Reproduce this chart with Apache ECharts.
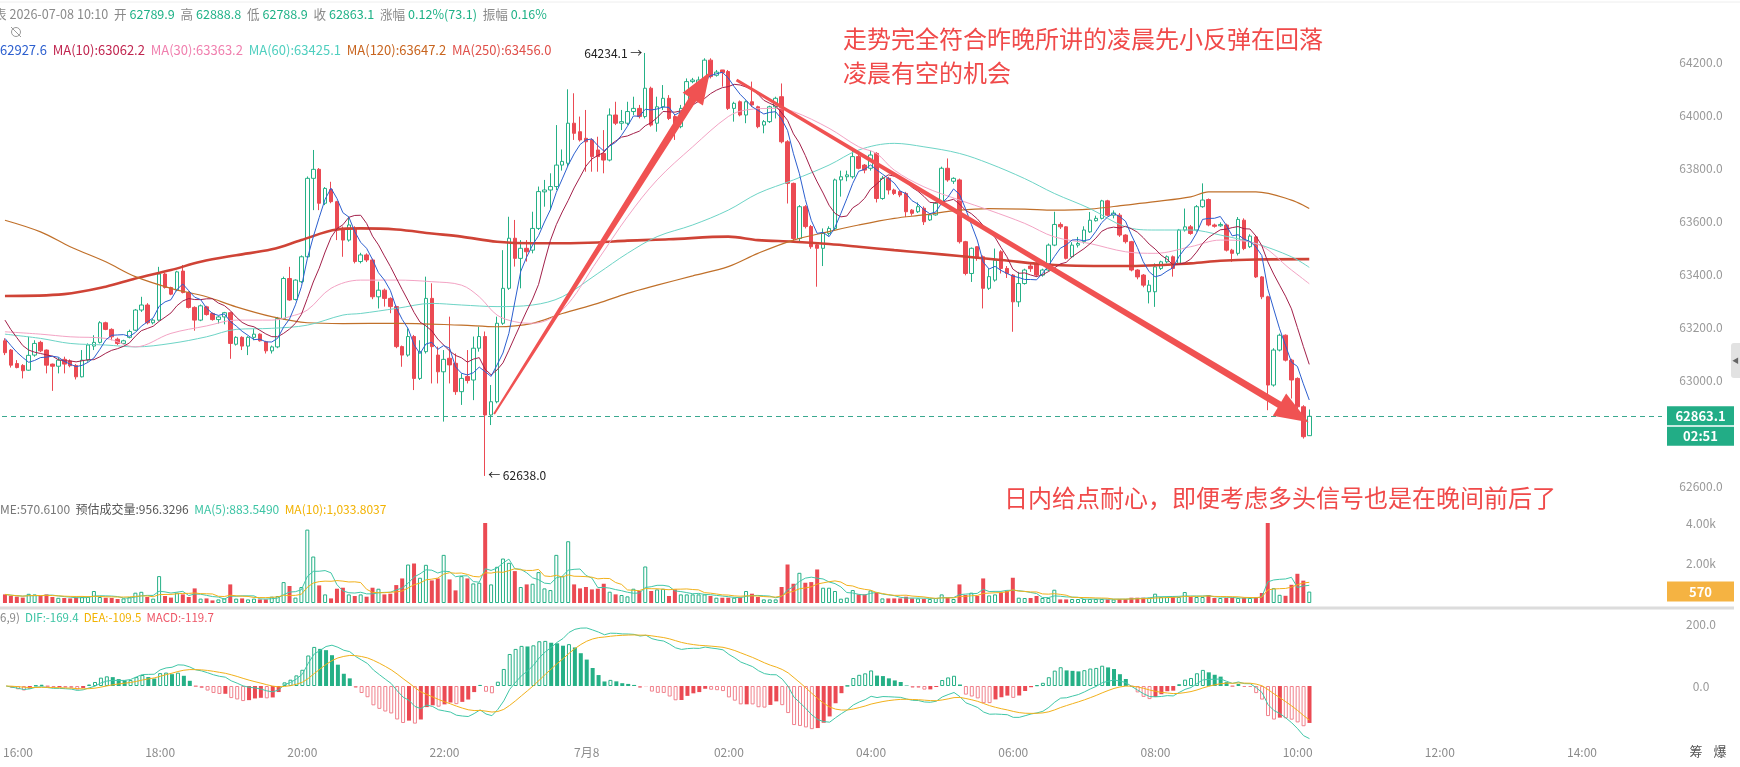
<!DOCTYPE html>
<html>
<head>
<meta charset="utf-8">
<script src="https://cdn.jsdelivr.net/npm/echarts@6/dist/echarts.min.js"></script>
<style>
html,body{margin:0;padding:0;background:#fff;}
#main{width:1740px;height:767px;}
</style>
</head>
<body>
<div id="main"></div>
<script>
// 5 分钟 K 线, 15:50 起, 共 221 根 (到 7月8 10:10)
var opens = [
63148,63113,63062,63055,63037,63094,63142,63113,63060,63052,
63078,63072,63055,63012,63075,63128,63142,63216,63191,63154,
63138,63161,63188,63264,63283,63216,63226,63400,63349,63339,
63411,63330,63274,63226,63276,63251,63228,63238,63254,63135,
63161,63128,63161,63173,63144,63110,63125,63232,63383,63304,
63371,63465,63761,63795,63667,63719,63673,63566,63528,63572,
63447,63472,63453,63314,63339,63308,63277,63126,63094,63164,
63006,63107,63308,63094,63031,63082,63063,62956,63013,63000,
63120,63164,62868,62918,63214,63346,63535,63459,63497,63490,
63572,63710,63717,63730,63811,63818,63969,63937,63912,63906,
63868,63855,63830,64000,63969,63969,64013,64025,63994,64101,
63969,64031,64063,63994,63956,64025,64126,64120,64126,64207,
64150,64170,64164,64025,64050,64000,64050,64031,63962,63975,
64031,64069,63899,63742,63534,63654,63579,63510,63497,63553,
63572,63755,63767,63767,63843,63811,63799,63855,63685,63761,
63717,63711,63704,63641,63635,63648,63604,63623,63667,63799,
63750,63755,63522,63402,63503,63465,63346,63377,63484,63421,
63396,63295,63364,63430,63440,63396,63415,63509,63587,63578,
63465,63509,63522,63559,63601,63610,63676,63622,63622,63547,
63522,63415,63396,63333,63333,63421,63446,63465,63440,63566,
63578,63566,63654,63681,63585,63582,63585,63490,63478,63603,
63503,63540,63389,63314,62981,63113,63169,63075,63006,62899,
62789.9];
var closes = [
63103,63056,63047,63035,63093,63138,63110,63056,63052,63075,
63060,63054,63012,63075,63132,63142,63216,63191,63163,63138,
63148,63183,63264,63283,63216,63226,63400,63349,63324,63408,
63330,63274,63226,63280,63247,63228,63238,63254,63138,63161,
63128,63161,63173,63148,63110,63125,63232,63383,63302,63377,
63465,63761,63795,63667,63723,63673,63566,63528,63585,63447,
63472,63453,63314,63339,63308,63277,63126,63094,63164,63006,
63107,63308,63126,63031,63078,63057,62956,63006,62998,63120,
63164,62868,62918,63214,63346,63535,63459,63497,63484,63572,
63711,63717,63730,63811,63825,63969,63931,63906,63899,63843,
63843,63830,64000,63969,63975,64013,64025,63994,64101,63962,
64031,64063,63987,63956,64025,64126,64132,64132,64207,64145,
64162,64160,64025,64044,64000,64050,64038,63956,63975,64031,
64063,63899,63742,63534,63654,63579,63503,63497,63553,63572,
63755,63767,63774,63843,63799,63792,63849,63685,63761,63717,
63704,63698,63635,63629,63654,63597,63623,63667,63799,63755,
63761,63522,63402,63497,63459,63346,63390,63452,63421,63402,
63295,63364,63415,63420,63396,63415,63509,63587,63578,63459,
63509,63515,63566,63603,63610,63676,63622,63630,63547,63522,
63415,63389,63358,63358,63427,63446,63465,63421,63566,63578,
63553,63654,63679,63585,63580,63587,63490,63478,63606,63496,
63543,63389,63314,62981,63113,63169,63075,63000,62899,62786,
62863.1];
var lows = [
63094,63047,63044,63006,63035,63088,63105,63025,62959,63025,
63025,63048,63002,63010,63069,63113,63138,63188,63150,63132,
63135,63157,63185,63257,63210,63210,63223,63345,63320,63335,
63327,63270,63186,63222,63243,63224,63213,63210,63080,63130,
63113,63094,63150,63145,63100,63100,63120,63228,63299,63300,
63366,63460,63641,63641,63660,63667,63528,63465,63522,63440,
63440,63445,63305,63270,63277,63252,63120,63050,63088,62962,
63000,63100,62987,62987,62843,62987,62944,62906,62987,62924,
63107,62638,62830,62912,63208,63340,63428,63346,63447,63478,
63566,63654,63641,63717,63790,63805,63906,63900,63786,63786,
63786,63780,63825,63962,63943,63962,64000,63987,63987,63956,
63937,64019,63981,63906,63950,64019,64120,64110,64120,64138,
64145,64107,64019,63975,63995,63969,64030,63950,63931,63970,
63987,63893,63666,63520,63520,63572,63495,63352,63430,63545,
63566,63692,63750,63760,63795,63780,63790,63670,63680,63700,
63698,63690,63615,63620,63630,63585,63600,63620,63660,63748,
63740,63515,63395,63370,63450,63270,63340,63371,63402,63385,
63182,63276,63360,63408,63389,63390,63410,63505,63570,63455,
63460,63500,63515,63555,63598,63606,63618,63610,63540,63515,
63410,63380,63350,63289,63276,63415,63440,63390,63435,63560,
63548,63560,63650,63580,63575,63578,63485,63446,63470,63490,
63498,63385,63305,62886,62975,63108,63070,62930,62850,62779,
62788.9];
var highs = [
63157,63117,63075,63060,63163,63150,63148,63115,63062,63085,
63088,63078,63060,63113,63138,63169,63222,63220,63195,63160,
63152,63190,63268,63314,63290,63230,63427,63405,63352,63412,
63434,63335,63278,63285,63280,63255,63242,63257,63258,63165,
63165,63165,63193,63176,63148,63130,63238,63390,63427,63380,
63470,63768,63868,63800,63728,63748,63676,63579,63617,63580,
63480,63478,63458,63371,63345,63312,63280,63130,63195,63170,
63150,63390,63365,63126,63113,63239,63100,63025,63113,63164,
63201,63183,62981,63239,63490,63616,63604,63528,63528,63635,
63730,63755,63780,63962,63870,64097,64082,63994,64019,63912,
63918,63943,64025,64050,64019,64050,64069,64038,64234.1,64107,
64069,64113,64075,64000,64038,64138,64140,64145,64214,64214,
64170,64170,64170,64050,64055,64055,64126,64035,63981,64035,
64069,64119,63905,63745,63660,63660,63585,63515,63572,63580,
63760,63790,63790,63870,63850,63815,63865,63860,63770,63767,
63722,63715,63710,63645,63670,63655,63628,63672,63805,63836,
63765,63760,63525,63500,63505,63470,63420,63496,63490,63430,
63400,63408,63420,63440,63445,63420,63515,63635,63595,63580,
63520,63540,63580,63634,63620,63680,63680,63640,63630,63550,
63525,63418,63400,63377,63440,63450,63470,63470,63570,63647,
63585,63660,63742,63685,63590,63595,63590,63495,63615,63610,
63550,63545,63392,63318,63120,63175,63172,63080,63010,62905,
62888.8];
var volumes = [
430,350,320,270,460,430,350,430,300,260,
250,230,280,300,320,600,300,260,250,200,
230,300,515,560,300,220,1345,350,270,515,
430,300,730,220,230,130,180,230,930,220,
230,180,220,180,180,315,350,1045,850,270,
800,3670,2324,880,430,230,714,764,430,350,
430,315,764,714,430,465,896,1228,1925,1975,
1262,1909,1129,1228,2407,1179,631,1345,1228,979,
1013,4000,930,1810,2224,2009,1594,800,930,963,
1544,730,647,2407,1345,3088,930,730,800,680,
714,963,564,432,400,332,714,600,1826,600,
680,714,350,680,430,430,430,430,430,350,
265,265,265,265,265,600,465,300,180,180,
180,800,1925,963,1510,1013,1045,1677,764,764,
600,216,266,647,432,432,630,515,230,230,
230,230,315,230,230,200,200,250,430,266,
200,930,400,515,350,1228,380,430,515,600,
1262,266,250,250,350,250,250,664,180,180,
200,200,200,200,200,200,180,180,200,200,
265,265,265,265,465,300,300,300,300,548,
300,300,300,400,250,250,250,250,250,250,
250,270,500,4000,740,410,360,910,1460,1117,
570.61];

// 均线: 窗口外的开头几根读图值, 长周期均线按读图点取样
var ma5Head = [63157, 63130, 63105, 63085];
var ma10Head = [63226, 63190, 63160, 63130, 63113, 63105, 63100, 63095, 63090];
var ma30Pts = [[0,63182],[6,63173],[11,63163],[17,63157],[22,63125],[28,63176],[34,63204],[39,63226],[45,63226],[48,63239],[51,63264],[55,63346],[60,63377],[66,63377],[72,63371],[77,63358],[80,63314],[83,63245],[86,63220],[89,63214],[94,63264],[100,63453],[105,63616],[110,63755],[116,63880],[122,63994],[125,64019],[130,64025],[133,64013],[139,63950],[144,63880],[147,63855],[150,63792],[155,63729],[161,63679],[166,63641],[172,63591],[177,63540],[183,63515],[189,63484],[194,63478],[200,63503],[205,63528],[211,63515],[217,63415],[220,63363.2]];
var ma60Pts = [[0,63173],[6,63157],[11,63138],[17,63132],[22,63125],[28,63138],[34,63163],[39,63191],[45,63195],[51,63207],[57,63245],[60,63251],[66,63270],[72,63289],[77,63283],[83,63277],[89,63283],[94,63314],[100,63402],[105,63478],[110,63541],[116,63585],[122,63641],[127,63704],[133,63755],[139,63811],[144,63868],[150,63893],[155,63880],[161,63855],[166,63817],[172,63760],[177,63704],[183,63647],[189,63578],[194,63566],[200,63566],[205,63547],[211,63515],[217,63465],[220,63425.1]];
var ma120Pts = [[0,63603],[6,63559],[11,63503],[17,63446],[22,63390],[28,63346],[34,63314],[39,63276],[45,63239],[51,63216],[57,63213],[66,63214],[77,63207],[83,63201],[89,63214],[94,63251],[100,63289],[105,63327],[110,63358],[116,63393],[122,63428],[127,63478],[133,63528],[139,63560],[144,63585],[150,63610],[155,63623],[161,63641],[166,63647],[172,63645],[177,63641],[183,63645],[189,63660],[194,63673],[200,63691],[203,63710],[211,63710],[217,63679],[220,63647.2]];
var ma250Pts = [[0,63317],[10,63324],[17,63352],[22,63383],[28,63415],[33,63446],[39,63471],[45,63493],[50,63528],[56,63568],[60,63572],[66,63568],[72,63553],[77,63541],[83,63522],[89,63516],[94,63516],[100,63519],[105,63526],[112,63531],[122,63541],[127,63528],[133,63522],[139,63513],[144,63503],[150,63490],[155,63480],[161,63468],[168,63453],[177,63434],[189,63430],[200,63440],[205,63450],[211,63455],[220,63456.0]];

var tickTimes = ['16:00','18:00','20:00','22:00','00:00','02:00','04:00','06:00','08:00','10:00','12:00','14:00'];
var tickNames = ['16:00','18:00','20:00','22:00','7月8','02:00','04:00','06:00','08:00','10:00','12:00','14:00'];
var priceTicks = [62600, 63000, 63200, 63400, 63600, 63800, 64000, 64200];
var volTicks = [2000, 4000];
var macdTicks = [0, 200];

var FONT = '"Noto Sans CJK SC","Noto Sans",sans-serif';
var GREEN = '#25b086', RED = '#eb4a53', PINKRED = '#f0818c';
var ARROW = '#f05252';

function pad(n){ return (n < 10 ? '0' : '') + n; }
var times = [];
var startMin = 15 * 60 + 50;
for (var i = 0; i < 280; i++) {
	var m = (startMin + 5 * i) % 1440;
	times.push(pad(Math.floor(m / 60)) + ':' + pad(m % 60));
}

function movingAvg(src, n, head) {
	return src.map(function (v, i) {
		if (i < n - 1) {
			if (head) return head[i];
			var s = 0;
			for (var k = 0; k <= i; k++) s += src[k];
			return s / (i + 1);
		}
		var sum = 0;
		for (var j = i - n + 1; j <= i; j++) sum += src[j];
		return sum / n;
	});
}
function sparse(pts) {
	var arr = closes.map(function () { return null; });
	pts.forEach(function (p) { arr[p[0]] = p[1]; });
	return arr;
}

var kData = closes.map(function (c, i) { return [opens[i], c, lows[i], highs[i]]; });
var volData = volumes.map(function (v, i) {
	var up = closes[i] >= opens[i];
	return { value: v, itemStyle: up ? { color: '#fff', borderColor: GREEN, borderWidth: 1 } : { color: RED } };
});

// MACD(12,26,9)
var e12 = closes[0], e26 = closes[0], dea = 0;
var difArr = [], deaArr = [], histArr = [];
closes.forEach(function (c) {
	e12 = e12 * 11 / 13 + c * 2 / 13;
	e26 = e26 * 25 / 27 + c * 2 / 27;
	var dif = e12 - e26;
	dea = dea * 8 / 10 + dif * 2 / 10;
	difArr.push(dif);
	deaArr.push(dea);
	histArr.push(2 * (dif - dea));
});
var histData = histArr.map(function (h, i) {
	var prev = i > 0 ? histArr[i - 1] : 0;
	var st;
	if (h >= 0) st = h > prev ? { color: '#fff', borderColor: GREEN, borderWidth: 1 } : { color: GREEN };
	else st = h < prev ? { color: '#fff', borderColor: PINKRED, borderWidth: 1 } : { color: RED };
	return { value: h, itemStyle: st };
});

var chart = echarts.init(document.getElementById('main'));

function xAxisFor(k) {
	return {
		type: 'category', gridIndex: k, data: times, boundaryGap: true,
		axisLine: { show: false }, axisTick: { show: false }, splitLine: { show: false },
		axisLabel: k === 2 ? {
			show: true, color: '#8c8c8c', fontSize: 12, margin: 4,
			interval: function (idx, val) { return tickTimes.indexOf(val) >= 0; },
			formatter: function (val) { var t = tickTimes.indexOf(val); return t >= 0 ? tickNames[t] : ''; }
		} : { show: false }
	};
}
function yAxisFor(k, min, max, ticks, fmt) {
	return {
		type: 'value', gridIndex: k, position: 'right', min: min, max: max, scale: true,
		axisLine: { show: false }, axisTick: { show: false }, splitLine: { show: false },
		axisLabel: { customValues: ticks, formatter: fmt, align: 'center', margin: 39, color: '#999', fontSize: 12 }
	};
}
function lineSeries(name, data, color, width, xi, sparseLine) {
	return {
		name: name, type: 'line', xAxisIndex: xi, yAxisIndex: xi, data: data,
		showSymbol: false, symbol: 'none', silent: true, connectNulls: true,
		smooth: sparseLine ? 0.35 : false,
		lineStyle: { color: color, width: width }
	};
}

var option = {
	animation: false,
	backgroundColor: '#fff',
	textStyle: { fontFamily: FONT },
	grid: [
		{ left: 2, right: 78, top: 35, height: 462 },
		{ left: 2, right: 78, top: 503, height: 100 },
		{ left: 2, right: 78, top: 612, height: 130 }
	],
	xAxis: [xAxisFor(0), xAxisFor(1), xAxisFor(2)],
	yAxis: [
		yAxisFor(0, 62558.5, 64301.9, priceTicks, function (v) { return v.toFixed(1); }),
		yAxisFor(1, 0, 5000, volTicks, function (v) { return (v / 1000).toFixed(2) + 'k'; }),
		yAxisFor(2, -180.6, 238.7, macdTicks, function (v) { return v.toFixed(1); })
	],
	series: [
		{
			type: 'candlestick', xAxisIndex: 0, yAxisIndex: 0, data: kData, barWidth: 4, silent: true,
			itemStyle: { color: '#fff', color0: RED, borderColor: GREEN, borderColor0: RED, borderWidth: 1 },
			markLine: {
				symbol: 'none', silent: true, label: { show: false },
				lineStyle: { type: [5, 4], color: '#3aa88f', width: 1 },
				data: [{ yAxis: closes[closes.length - 1] }]
			}
		},
		lineSeries('MA250', sparse(ma250Pts), '#cf4336', 2.6, 0, true),
		lineSeries('MA120', sparse(ma120Pts), '#c0702a', 1.2, 0, true),
		lineSeries('MA60', sparse(ma60Pts), '#6dd4c6', 1, 0, true),
		lineSeries('MA30', sparse(ma30Pts), '#f3a3c4', 1, 0, true),
		lineSeries('MA10', movingAvg(closes, 10, ma10Head), '#a3204a', 1, 0, false),
		lineSeries('MA5', movingAvg(closes, 5, ma5Head), '#2c5fcf', 1, 0, false),
		{ type: 'bar', xAxisIndex: 1, yAxisIndex: 1, data: volData, barWidth: 4, silent: true },
		lineSeries('VMA5', movingAvg(volumes, 5), '#41c7a8', 1, 1, false),
		lineSeries('VMA10', movingAvg(volumes, 10), '#f2b11b', 1, 1, false),
		{ type: 'bar', xAxisIndex: 2, yAxisIndex: 2, data: histData, barWidth: 4, silent: true },
		lineSeries('DIF', difArr, '#41c7a8', 1, 2, false),
		lineSeries('DEA', deaArr, '#f2b11b', 1, 2, false)
	]
};
chart.setOption(option);

// ---- 标注 / 文字 ----
function pt(gi, i, v) {
	var f = Math.floor(i);
	var a = chart.convertToPixel({ gridIndex: gi }, [f, v]);
	var b = chart.convertToPixel({ gridIndex: gi }, [f + 1, v]);
	return [a[0] + (b[0] - a[0]) * (i - f), a[1]];
}
function arrowPts(a, b, w0, w1, hw, hl) {
	var dx = b[0] - a[0], dy = b[1] - a[1];
	var len = Math.sqrt(dx * dx + dy * dy);
	var ux = dx / len, uy = dy / len, nx = -uy, ny = ux;
	var bx = b[0] - ux * hl, by = b[1] - uy * hl;
	return [
		[a[0] + nx * w0 / 2, a[1] + ny * w0 / 2],
		[bx + nx * w1 / 2, by + ny * w1 / 2],
		[bx + nx * hw / 2, by + ny * hw / 2],
		[b[0], b[1]],
		[bx - nx * hw / 2, by - ny * hw / 2],
		[bx - nx * w1 / 2, by - ny * w1 / 2],
		[a[0] - nx * w0 / 2, a[1] - ny * w0 / 2]
	];
}
function txt(s, x, y, color, size, extra) {
	var st = { text: s, x: x, y: y, fill: color, font: (extra && extra.bold ? 'bold ' : '') + size + 'px ' + FONT,
		textAlign: (extra && extra.align) || 'left', textVerticalAlign: 'middle' };
	return { type: 'text', z: 120, silent: true, style: st };
}
// 一行多色文字: parts = [[text, color], ...]
function richRow(parts, x, y, size) {
	var rich = {}, s = '';
	parts.forEach(function (p, k) {
		rich['p' + k] = { fill: p[1], fontSize: size, fontFamily: FONT };
		s += '{p' + k + '|' + p[0] + '}';
	});
	return { type: 'text', z: 120, silent: true, style: { x: x, y: y, text: s, rich: rich, textVerticalAlign: 'middle', font: size + 'px ' + FONT } };
}

var g = [];
var GR = '#8a8a8a', VG = '#1fb287';
g.push(richRow([['表 2026-07-08 10:10  开 ', GR], ['62789.9', VG], ['  高 ', GR], ['62888.8', VG], ['  低 ', GR], ['62788.9', VG],
	['  收 ', GR], ['62863.1', VG], ['  涨幅 ', GR], ['0.12%(73.1)', VG], ['  振幅 ', GR], ['0.16%', VG]], -6, 14, 12.6));
g.push(richRow([['62927.6  ', '#2c5fcf'], ['MA(10):63062.2  ', '#c0254f'], ['MA(30):63363.2  ', '#f07fae'],
	['MA(60):63425.1  ', '#4fcfbf'], ['MA(120):63647.2  ', '#c8641e'], ['MA(250):63456.0', '#e0504a']], 0, 50, 13));
g.push({ type: 'circle', z: 120, silent: true, shape: { cx: 16, cy: 32, r: 4.5 }, style: { fill: 'none', stroke: '#9a9a9a', lineWidth: 1 } });
g.push({ type: 'line', z: 120, silent: true, shape: { x1: 11, y1: 27, x2: 21, y2: 37 }, style: { stroke: '#9a9a9a', lineWidth: 1 } });
g.push({ type: 'line', z: 1, silent: true, shape: { x1: 0, y1: 2, x2: 1740, y2: 2 }, style: { stroke: '#eeeeee', lineWidth: 1 } });

// 量 / MACD 标题
g.push(richRow([['ME:570.6100  ', '#777'], ['预估成交量:956.3296  ', '#555'], ['MA(5):883.5490  ', '#3cc4a4'], ['MA(10):1,033.8037', '#f2b200']], 0, 509, 12));
g.push(richRow([['6,9)  ', '#888'], ['DIF:-169.4  ', '#3cc4a4'], ['DEA:-109.5  ', '#f2b200'], ['MACD:-119.7', '#ee5566']], 0, 618, 11.5));
g.push({ type: 'line', z: 5, silent: true, shape: { x1: 0, y1: 608, x2: 1734, y2: 608 }, style: { stroke: '#dcdcdc', lineWidth: 3 } });

// 最高 / 最低
var hiP = pt(0, 108, 64234.1), loP = pt(0, 81, 62638.0);
g.push(txt('64234.1 →', hiP[0] - 3, hiP[1], '#222', 12, { align: 'right' }));
g.push(txt('← 62638.0', loP[0] + 3, loP[1], '#222', 12));

// 箭头
g.push({ type: 'polygon', z: 60, silent: true, shape: { points: arrowPts(pt(0, 82.5, 62872), pt(0, 118.9, 64162), 2, 8, 24, 32) }, style: { fill: ARROW } });
g.push({ type: 'polygon', z: 60, silent: true, shape: { points: arrowPts(pt(0, 123.4, 64132), pt(0, 219.9, 62841), 3, 7, 26, 34) }, style: { fill: ARROW } });

// 注释文字
g.push(txt('走势完全符合昨晚所讲的凌晨先小反弹在回落', 843, 39, '#f04a4a', 24));
g.push(txt('凌晨有空的机会', 843, 73, '#f04a4a', 24));
g.push(txt('日内给点耐心，即便考虑多头信号也是在晚间前后了', 1004, 498, '#f04a4a', 24));

// 右侧标签
var lastY = pt(0, 220, closes[closes.length - 1])[1];
g.push({ type: 'rect', z: 110, silent: true, shape: { x: 1667, y: lastY - 10, width: 67, height: 19 }, style: { fill: '#22ad86' } });
g.push(txt('62863.1', 1700.5, lastY - 0.5, '#fff', 13, { bold: true, align: 'center' }));
g.push({ type: 'rect', z: 110, silent: true, shape: { x: 1667, y: lastY + 10.5, width: 67, height: 19 }, style: { fill: '#22ad86' } });
g.push(txt('02:51', 1700.5, lastY + 20, '#fff', 13, { bold: true, align: 'center' }));
var volY = chart.convertToPixel({ gridIndex: 1 }, [220, volumes[volumes.length - 1]])[1];
g.push({ type: 'rect', z: 110, silent: true, shape: { x: 1667, y: volY - 10, width: 67, height: 20 }, style: { fill: '#f5b342' } });
g.push(txt('570', 1700.5, volY, '#fff', 13, { bold: true, align: 'center' }));

g.push({ type: 'rect', z: 110, silent: true, shape: { x: 1731, y: 343, width: 9, height: 35, r: [3, 0, 0, 3] }, style: { fill: '#e2e2e2' } });
g.push(txt('◀', 1735.5, 360, '#666', 7, { align: 'center' }));
g.push(txt('筹', 1696, 751, '#555', 13, { align: 'center' }));
g.push(txt('爆', 1720, 751, '#555', 13, { align: 'center' }));

chart.setOption({ graphic: { elements: g } });
</script>
</body>
</html>
